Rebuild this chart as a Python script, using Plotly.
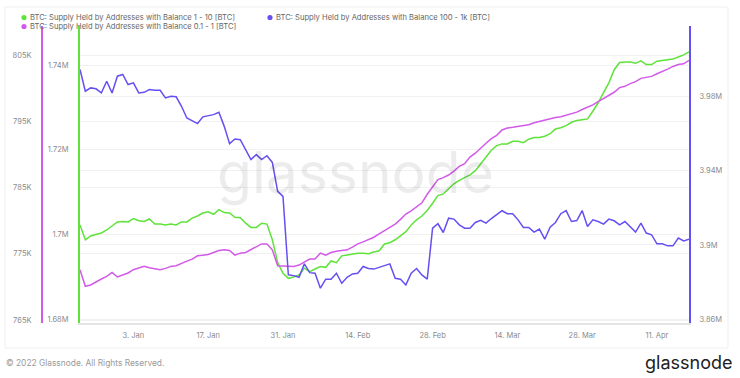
import pandas as pd
import plotly.graph_objects as go

# ---------------- data ----------------
start_date = "2021-12-24"
n_days = 115
dates = pd.date_range(start_date, periods=n_days, freq="D")

series_names = [
    "BTC: Supply Held by Addresses with Balance 1 - 10 [BTC]",
    "BTC: Supply Held by Addresses with Balance 100 - 1k [BTC]",
    "BTC: Supply Held by Addresses with Balance 0.1 - 1 [BTC]",
]

# values in thousands of BTC
bal_1_10 = [1702.3, 1698.8, 1699.7, 1700.0, 1700.4, 1701.1, 1702.1, 1703.0, 1703.1, 1703.0,
            1703.8, 1703.3, 1703.1, 1703.7, 1702.5, 1702.5, 1702.3, 1702.5, 1702.3, 1703.0,
            1703.0, 1703.9, 1704.4, 1705.1, 1705.4, 1704.8, 1705.9, 1705.2, 1705.1, 1704.1,
            1704.0, 1702.7, 1701.7, 1701.7, 1702.7, 1702.5, 1698.8, 1693.4, 1690.9, 1689.7,
            1690.0, 1690.5, 1692.1, 1691.3, 1691.9, 1692.5, 1692.3, 1693.8, 1693.4, 1695.0,
            1695.2, 1695.4, 1695.6, 1695.6, 1695.5, 1695.9, 1696.2, 1697.8, 1698.1, 1698.8,
            1699.7, 1700.7, 1702.3, 1703.5, 1704.4, 1705.7, 1707.4, 1709.2, 1709.6, 1710.7,
            1712.0, 1712.8, 1713.5, 1714.1, 1715.1, 1716.7, 1718.4, 1719.9, 1721.0, 1721.4,
            1721.4, 1722.0, 1722.0, 1721.7, 1722.5, 1722.9, 1722.9, 1723.2, 1723.8, 1724.9,
            1725.2, 1725.7, 1726.5, 1726.9, 1727.1, 1727.3, 1729.1, 1731.1, 1733.5, 1735.8,
            1738.9, 1740.6, 1740.7, 1740.7, 1740.4, 1741.0, 1740.1, 1740.1, 1740.9, 1741.1,
            1741.3, 1741.4, 1741.9, 1742.4, 1743.1]

bal_100_1k = [3994.4, 3982.7, 3984.5, 3984.0, 3981.8, 3988.1, 3981.8, 3990.8, 3991.7, 3986.3,
              3987.2, 3981.8, 3982.1, 3983.6, 3983.2, 3983.2, 3979.1, 3980.0, 3979.7, 3974.6,
              3968.3, 3966.9, 3965.3, 3968.9, 3969.6, 3970.1, 3971.4, 3963.8, 3954.5, 3957.0,
              3956.6, 3951.3, 3945.9, 3948.6, 3945.9, 3948.0, 3944.4, 3928.8, 3926.1, 3883.9,
              3883.5, 3882.6, 3889.8, 3885.1, 3884.8, 3876.7, 3881.6, 3881.6, 3884.8, 3879.4,
              3882.6, 3884.4, 3884.8, 3888.4, 3887.3, 3887.0, 3888.0, 3888.7, 3889.8, 3882.1,
              3881.6, 3878.5, 3884.8, 3887.3, 3883.9, 3881.6, 3909.0, 3911.4, 3906.7, 3914.4,
              3913.9, 3910.8, 3909.0, 3909.0, 3912.1, 3913.3, 3911.7, 3914.2, 3916.2, 3918.4,
              3916.8, 3916.8, 3913.5, 3909.4, 3909.4, 3906.9, 3908.5, 3903.1, 3909.6, 3912.1,
              3916.8, 3918.5, 3912.6, 3913.1, 3918.5, 3909.9, 3913.5, 3912.6, 3911.2, 3913.9,
              3913.0, 3910.8, 3912.6, 3909.9, 3906.9, 3911.7, 3906.4, 3905.4, 3900.6, 3900.6,
              3899.5, 3899.5, 3903.7, 3902.2, 3903.1]

bal_01_1 = [772.6, 770.1, 770.3, 770.8, 771.2, 771.6, 772.2, 771.5, 771.8, 772.1,
            772.6, 772.9, 773.1, 772.9, 772.7, 772.6, 772.8, 773.1, 773.2, 773.6,
            773.9, 774.2, 774.7, 774.8, 774.9, 775.2, 775.5, 775.6, 775.5, 774.8,
            775.1, 775.2, 775.6, 776.1, 776.5, 776.5, 775.6, 773.2, 773.2, 773.1,
            773.1, 773.3, 773.8, 774.2, 774.2, 775.1, 774.8, 775.2, 775.4, 775.5,
            775.6, 776.0, 776.5, 776.8, 777.1, 777.5, 778.0, 778.5, 779.0, 779.5,
            780.2, 781.0, 781.5, 782.1, 782.7, 784.0, 785.2, 786.2, 786.5, 786.9,
            787.5, 788.2, 788.6, 789.6, 790.2, 791.0, 791.7, 792.4, 792.9, 793.7,
            794.0, 794.1, 794.2, 794.4, 794.5, 794.8, 795.0, 795.2, 795.5, 795.6,
            795.7, 795.9, 796.2, 796.4, 796.8, 797.1, 797.5, 798.0, 798.5, 799.0,
            799.4, 800.1, 800.3, 800.7, 801.0, 801.5, 801.7, 801.8, 802.2, 802.5,
            802.9, 803.3, 803.6, 803.7, 804.2]

green_tickvals = [1680, 1700, 1720, 1740]
green_ticktext = ["1.68M", "1.7M", "1.72M", "1.74M"]
purple_tickvals = [765, 775, 785, 795, 805]
purple_ticktext = ["765K", "775K", "785K", "795K", "805K"]
blue_tickvals = [3860, 3900, 3940, 3980]
blue_ticktext = ["3.86M", "3.9M", "3.94M", "3.98M"]

# ---------------- style ----------------
GREEN = "#5fe23a"
BLUE = "#6550f2"
PURPLE = "#d25ae8"
FONT = "Inter"
W, H = 740, 378
ML, MR, MT, MB = 42, 51, 26, 55
PW, PH = W - ML - MR, H - MT - MB


def px_x(x):
    return (x - ML) / PW


def px_y(y):
    return (H - MB - y) / PH


fig = go.Figure()
fig.add_trace(go.Scatter(x=dates, y=bal_1_10, name=series_names[0], mode="lines",
                         line=dict(color=GREEN, width=1.5), yaxis="y"))
fig.add_trace(go.Scatter(x=dates, y=bal_100_1k, name=series_names[1], mode="lines",
                         line=dict(color=BLUE, width=1.5), yaxis="y3"))
fig.add_trace(go.Scatter(x=dates, y=bal_01_1, name=series_names[2], mode="lines",
                         line=dict(color=PURPLE, width=1.5), yaxis="y2"))

tickfont = dict(family=FONT, size=7.5, color="#8a8a8a")
grid = "#f1f1f1"

fig.update_layout(
    width=W, height=H,
    margin=dict(l=ML, r=MR, t=MT, b=MB),
    paper_bgcolor="white", plot_bgcolor="white",
    showlegend=False,
    font=dict(family=FONT),
    xaxis=dict(
        domain=[px_x(80), 1],
        range=[dates[0], dates[-1]],
        tick0="2022-01-03", dtick=14 * 86400000,
        tickformat="%-d. %b",
        tickfont=tickfont,
        showgrid=False, zeroline=False,
        showline=True, linecolor="#e4e4e4", linewidth=2,
        ticks="", ticklabelstandoff=4,
    ),
    yaxis=dict(
        range=[1679.17, 1749.2],
        tickvals=green_tickvals, ticktext=green_ticktext,
        tickfont=tickfont, showgrid=True, gridcolor=grid, zeroline=False,
        showline=True, linecolor=GREEN, linewidth=2,
        ticks="", ticklabelstandoff=8,
    ),
    yaxis2=dict(
        range=[764.55, 809.41],
        tickvals=purple_tickvals, ticktext=purple_ticktext,
        tickfont=tickfont, showgrid=True, gridcolor=grid, zeroline=False,
        showline=True, linecolor=PURPLE, linewidth=2,
        overlaying="y", side="left", anchor="free", position=0,
        ticks="", ticklabelstandoff=8,
    ),
    yaxis3=dict(
        range=[3858.0, 4017.8],
        tickvals=blue_tickvals, ticktext=blue_ticktext,
        tickfont=tickfont, showgrid=True, gridcolor=grid, zeroline=False,
        showline=True, linecolor=BLUE, linewidth=2,
        overlaying="y", side="right", anchor="x",
        ticks="", ticklabelstandoff=7,
    ),
)

shapes = [
    # outer frame
    dict(type="rect", xref="paper", yref="paper",
         x0=px_x(5), x1=px_x(728), y0=px_y(348), y1=px_y(7),
         line=dict(color="#efefef", width=1), fillcolor="rgba(0,0,0,0)", layer="below"),
]
annotations = [
    # watermark
    dict(text="glassnode", xref="paper", yref="paper", x=px_x(355), y=px_y(172),
         showarrow=False, font=dict(family=FONT, size=57, color="rgba(0,0,0,0.075)"),
         xanchor="center", yanchor="middle"),
    # footer
    dict(text="© 2022 Glassnode. All Rights Reserved.", xref="paper", yref="paper",
         x=px_x(4), y=px_y(363), showarrow=False, xanchor="left", yanchor="middle",
         font=dict(family=FONT, size=8.4, color="#9a9a9a")),
    dict(text="glassnode", xref="paper", yref="paper",
         x=px_x(734), y=px_y(362), showarrow=False, xanchor="right", yanchor="middle",
         font=dict(family=FONT, size=18, color="#222222")),
]

# legend (dots + labels)
legend_items = [
    (series_names[0], GREEN, 24, 17.5),
    (series_names[1], BLUE, 270, 17.5),
    (series_names[2], PURPLE, 24, 26.5),
]
for name, color, lx, ly in legend_items:
    shapes.append(dict(type="circle", xref="paper", yref="paper",
                       x0=px_x(lx - 2.6), x1=px_x(lx + 2.6),
                       y0=px_y(ly + 2.6), y1=px_y(ly - 2.6),
                       fillcolor=color, line=dict(width=0)))
    annotations.append(dict(text=name, xref="paper", yref="paper",
                            x=px_x(lx + 3.5), y=px_y(ly), showarrow=False,
                            xanchor="left", yanchor="middle",
                            font=dict(family=FONT, size=7.6, color="#666666")))

fig.update_layout(shapes=shapes, annotations=annotations)

fig.write_html("out.html")
